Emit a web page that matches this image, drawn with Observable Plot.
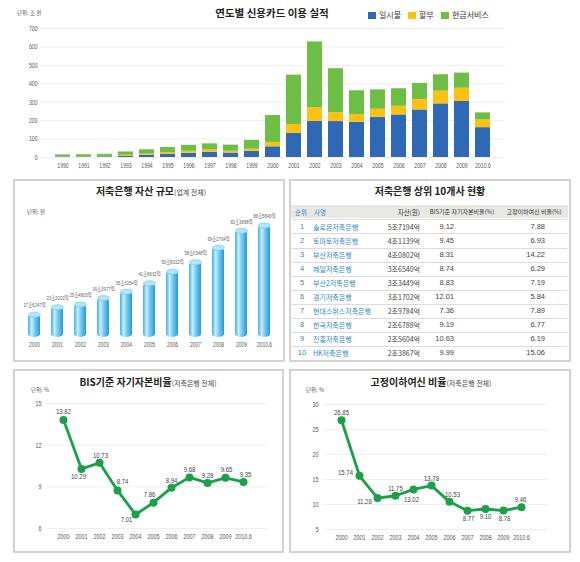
<!DOCTYPE html>
<html><head><meta charset="utf-8">
<script src="https://cdn.jsdelivr.net/npm/d3@7"></script>
<script src="https://cdn.jsdelivr.net/npm/@observablehq/plot@0.6"></script>
<style>
body{margin:0;background:#fff;}
#root{position:relative;width:580px;height:562px;overflow:hidden;font-family:"Noto Sans CJK KR",sans-serif;color:#333;background:#fff;}
.abs{position:absolute;white-space:nowrap;}
.box{position:absolute;border:2px solid #d2d2d2;box-sizing:border-box;}
.title{position:absolute;font-weight:bold;white-space:nowrap;transform:translate(-50%,-50%);font-size:10px;color:#222;line-height:1;}
.title span{font-weight:normal;font-size:7px;color:#444;}
.unit{position:absolute;font-size:5.5px;color:#555;white-space:nowrap;transform:translateY(-50%);line-height:1;}
.cell{position:absolute;white-space:nowrap;line-height:1;font-size:7px;color:#444;}
</style></head>
<body>
<div id="root"></div>
<script>
// ---------- DATA ----------
const creditYears = ["1990","1991","1992","1993","1994","1995","1996","1997","1998","1999","2000","2001","2002","2003","2004","2005","2006","2007","2008","2009","2010.6"];
const lumpSum     = [3,3,4,7,12,18,23,28,24,33,58,131,196,195,191,218,231,258,291,304,162];
const installment = [1,1,2,5,6,9,11,13,10,12,24,48,73,49,42,44,47,57,69,72,42];
const cashService = [10,11,11,18,24,27,32,33,33,48,146,268,358,238,129,105,95,87,89,82,38];
const creditSeries = ["일시불","할부","현금서비스"];
const creditColors = ["#2f69b5","#fdc111","#6cbe44"];

const assetYears  = ["2000","2001","2002","2003","2004","2005","2006","2007","2008","2009","2010.6"];
const assetValues = [17.6247,23.3202,25.4803,30.3977,35.3254,41.8632,50.8022,58.0348,69.2764,82.3898,86.5840];
const assetLabels = ["17조6247억","23조3202억","25조4803억","30조3977억","35조3254억","41조8632억","50조8022억","58조0348억","69조2764억","82조3898억","86조5840억"];

const tableHeaders = ["순위","사명","자산(원)","BIS기준 자기자본비율(%)","고정이하여신 비율(%)"];
const bankRanks  = [1,2,3,4,5,6,7,8,9,10];
const bankNames  = ["솔로몬저축은행","토마토저축은행","부산저축은행","제일저축은행","부산2저축은행","경기저축은행","현대스위스저축은행","한국저축은행","진흥저축은행","HK저축은행"];
const bankAssets = ["5조7194억","4조1139억","4조0802억","3조6540억","3조3449억","3조1702억","2조9784억","2조6788억","2조5604억","2조3867억"];
const bankBis    = ["9.12","9.45","8.31","8.74","8.83","12.01","7.36","9.19","10.63","9.99"];
const bankNpl    = ["7.88","6.93","14.22","6.29","7.19","5.84","7.89","6.77","6.19","15.06"];

const lineYears = ["2000","2001","2002","2003","2004","2005","2006","2007","2008","2009","2010.6"];
const bisRatio  = [13.82,10.29,10.73,8.74,7.01,7.86,8.94,9.68,9.28,9.65,9.35];
const nplRatio  = [26.85,15.74,11.28,11.75,13.02,13.78,10.53,8.77,9.10,8.78,9.46];

// ---------- STYLE / LAYOUT ----------
const root = document.getElementById("root");
const numFont = '"Liberation Sans","Noto Sans CJK KR",sans-serif';
const green = "#19a049";

function place(el, left, topPx) {
  const svg = el.tagName && el.tagName.toLowerCase() === "svg" ? el : el.querySelector("svg");
  el.style.position = "absolute";
  el.style.left = left + "px";
  el.style.top = topPx + "px";
  root.appendChild(el);
  return svg;
}
// squeeze texts horizontally to mimic the condensed typeface of the original
function condense(svg, selector, factor) {
  svg.querySelectorAll(selector).forEach(t => {
    const l = t.getComputedTextLength();
    if (l > 0) {
      t.setAttribute("textLength", (l * factor).toFixed(2));
      t.setAttribute("lengthAdjust", "spacingAndGlyphs");
    }
  });
}
function div(cls, html, left, topPx, extra) {
  const d = document.createElement("div");
  d.className = cls;
  d.innerHTML = html;
  d.style.left = left + "px";
  d.style.top = topPx + "px";
  if (extra) Object.assign(d.style, extra);
  root.appendChild(d);
  return d;
}
const TICKS = 'g[aria-label$="tick label"] text';
const LABELS = 'g[aria-label="text"] text';

// ---------- TOP: stacked bars ----------
const creditRows = creditYears.flatMap((y, i) => [
  {year: y, type: creditSeries[0], value: lumpSum[i]},
  {year: y, type: creditSeries[1], value: installment[i]},
  {year: y, type: creditSeries[2], value: cashService[i]}
]);
const topChart = Plot.plot({
  width: 580, height: 175,
  marginTop: 28, marginBottom: 18, marginLeft: 40, marginRight: 75,
  style: {fontSize: "7.5px", color: "#555", fontFamily: numFont, background: "transparent"},
  x: {domain: creditYears, padding: 0.29, label: null, tickSize: 0, tickPadding: 5},
  y: {domain: [0, 700], ticks: d3.range(0, 701, 100), grid: true, label: null, tickSize: 0, tickPadding: 3},
  color: {domain: creditSeries, range: creditColors},
  marks: [
    Plot.barY(creditRows, {x: "year", y: "value", fill: "type"})
  ]
});
const topSvg = place(topChart, 0, 0);
condense(topSvg, TICKS, 0.68);
div("title", "연도별 신용카드 이용 실적", 272, 12.5, {fontSize: "10.5px"});
div("unit", "단위: 조 원", 17, 14);
// legend
creditSeries.forEach((s, i) => {
  const xs = [368, 408, 441][i];
  div("abs", "", xs, 11.5, {width: "8px", height: "7px", background: creditColors[i]});
  div("abs", s, xs + 11, 15, {fontSize: "8px", color: "#333", transform: "translateY(-50%)", lineHeight: "1"});
});

// ---------- MIDDLE LEFT: cylinders ----------
div("box", "", 13, 179, {width: "272px", height: "183px"});
div("title", "저축은행 자산 규모<span>(업계 전체)</span>", 151, 191);
div("unit", "단위: 원", 27, 213);
const ellipseSymbol = {
  draw(ctx, size) {
    const rx = Math.sqrt(size / Math.PI), ry = rx * 0.42, k = 0.5523;
    ctx.moveTo(-rx, 0);
    ctx.bezierCurveTo(-rx, -ry * k, -rx * k, -ry, 0, -ry);
    ctx.bezierCurveTo(rx * k, -ry, rx, -ry * k, rx, 0);
    ctx.bezierCurveTo(rx, ry * k, rx * k, ry, 0, ry);
    ctx.bezierCurveTo(-rx * k, ry, -rx, ry * k, -rx, 0);
    ctx.closePath();
  }
};
const assetRows = assetYears.map((y, i) => ({year: y, value: assetValues[i], label: assetLabels[i]}));
const cyl = Plot.plot({
  width: 272, height: 152,
  marginTop: 14, marginBottom: 15, marginLeft: 0, marginRight: 0,
  style: {fontSize: "7px", color: "#555", fontFamily: numFont, background: "transparent", overflow: "visible"},
  x: {domain: assetYears, padding: 0.5, label: null, tickSize: 0, tickPadding: 5},
  y: {domain: [0, 95], axis: null},
  marks: [
    Plot.barY(assetRows, {x: "year", y: "value", fill: "url(#cylGrad)", rx: 6, ry: 3}),
    Plot.dot(assetRows, {x: "year", y: "value", symbol: ellipseSymbol, r: 6, fill: "#b3e6fb", stroke: "#62c2ee", strokeWidth: 0.6}),
    Plot.text(assetRows, {x: "year", y: "value", text: "label", dy: -9, fontSize: 5.5, fill: "#666"})
  ]
});
const cylSvg = place(cyl, 13, 200);
condense(cylSvg, TICKS, 0.7);
condense(cylSvg, LABELS, 0.78);
{
  const ns = "http://www.w3.org/2000/svg";
  const defs = document.createElementNS(ns, "defs");
  const g = document.createElementNS(ns, "linearGradient");
  g.setAttribute("id", "cylGrad");
  g.setAttribute("x1", "0"); g.setAttribute("x2", "1"); g.setAttribute("y1", "0"); g.setAttribute("y2", "0");
  [["0%", "#3fb0e6"], ["30%", "#c8eefc"], ["55%", "#79cdf3"], ["100%", "#2598d8"]].forEach(([o, c]) => {
    const s = document.createElementNS(ns, "stop");
    s.setAttribute("offset", o); s.setAttribute("stop-color", c);
    g.appendChild(s);
  });
  defs.appendChild(g);
  cylSvg.insertBefore(defs, cylSvg.firstChild);
}

// ---------- MIDDLE RIGHT: table ----------
div("box", "", 289, 179, {width: "282px", height: "183px"});
div("title", "저축은행 상위 10개사 현황", 430, 191);
div("abs", "", 291, 205, {width: "277px", height: "13px", background: "#e7e7e4"});
const headY = 211.7;
const blue = "#3386c2";
div("cell", tableHeaders[0], 301, headY, {transform: "translate(-50%,-50%)", color: blue, fontSize: "6.5px"});
div("cell", tableHeaders[1], 314, headY, {transform: "translate(0,-50%)", color: blue, fontSize: "6.5px"});
div("cell", tableHeaders[2], 420, headY, {transform: "translate(-100%,-50%)", fontSize: "6.5px", color: "#333"});
div("cell", tableHeaders[3], 462, headY, {transform: "translate(-50%,-50%)", fontSize: "6px", color: "#333"});
div("cell", tableHeaders[4], 534, headY, {transform: "translate(-50%,-50%)", fontSize: "6px", color: "#333"});
bankRanks.forEach((r, i) => {
  const cy = 226.7 + i * 14.07;
  div("abs", "", 292, cy - 7.3, {width: "275px", height: "0px", borderTop: "1px solid #dcdcdc"});
  div("cell", String(r), 302, cy, {transform: "translate(-50%,-50%)", color: blue, fontSize: "7.5px", fontFamily: numFont});
  div("cell", bankNames[i], 313, cy, {transform: "translate(0,-50%)", color: blue});
  div("cell", bankAssets[i], 420, cy, {transform: "translate(-100%,-50%)"});
  div("cell", bankBis[i], 454, cy, {transform: "translate(-100%,-50%)", fontSize: "7.5px", fontFamily: numFont});
  div("cell", bankNpl[i], 545, cy, {transform: "translate(-100%,-50%)", fontSize: "7.5px", fontFamily: numFont});
});

// ---------- BOTTOM: line charts ----------
function lineChart(values, years, opts, offsets) {
  return Plot.plot({
    width: opts.width, height: 160,
    marginTop: opts.mt, marginBottom: opts.mb, marginLeft: opts.ml, marginRight: opts.mr,
    style: {fontSize: "8px", color: "#555", fontFamily: numFont, background: "transparent", overflow: "visible"},
    x: {type: "point", domain: years, range: opts.xr, label: null, tickSize: 0, tickPadding: 5},
    y: {domain: opts.yd, ticks: opts.ticks, grid: true, label: null, tickSize: 0, tickPadding: 5},
    marks: [
      Plot.line(values.map((v, i) => i), {x: i => years[i], y: i => values[i], stroke: green, strokeWidth: 2.8}),
      Plot.dot(values.map((v, i) => i), {x: i => years[i], y: i => values[i], fill: green, r: 4}),
      ...values.map((v, i) => Plot.text([i], {
        x: j => years[j], y: j => values[j], text: j => values[j].toFixed(2),
        dx: offsets[i][0], dy: offsets[i][1], fontSize: 7.5, fill: "#444"
      }))
    ]
  });
}
const bisOffsets = [[0,-8],[-3,8],[1,-7],[5,-9],[-9,5],[-4,-8],[0,-7],[0,-8],[0,-7],[1,-8],[2,-7]];
const nplOffsets = [[0,-8],[-14,-3],[-13,3],[0,-7],[-2,10],[0,-7],[3,-7],[1,8],[0,8],[1,8],[-1,-8]];

div("box", "", 13, 369, {width: "271px", height: "184px"});
div("title", "BIS기준 자기자본비율<span>(저축은행 전체)</span>", 148, 382);
div("unit", "단위: %", 31, 391);
const bisSvg = place(lineChart(bisRatio, lineYears, {width: 268, mt: 13, mb: 22, ml: 33, mr: 14, xr: [38.7, 242], yd: [6, 15], ticks: [6, 9, 12, 15]}, bisOffsets), 13, 390);
condense(bisSvg, TICKS, 0.68);
condense(bisSvg, LABELS, 0.8);

div("box", "", 289, 369, {width: "282px", height: "184px"});
div("title", "고정이하여신 비율<span>(저축은행 전체)</span>", 431, 382);
div("unit", "단위: %", 306, 391);
const nplSvg = place(lineChart(nplRatio, lineYears, {width: 280, mt: 14, mb: 21, ml: 34, mr: 21, xr: [41, 243], yd: [5, 30], ticks: [5, 10, 15, 20, 25, 30]}, nplOffsets), 289, 390);
condense(nplSvg, TICKS, 0.68);
condense(nplSvg, LABELS, 0.8);
</script>
</body></html>
